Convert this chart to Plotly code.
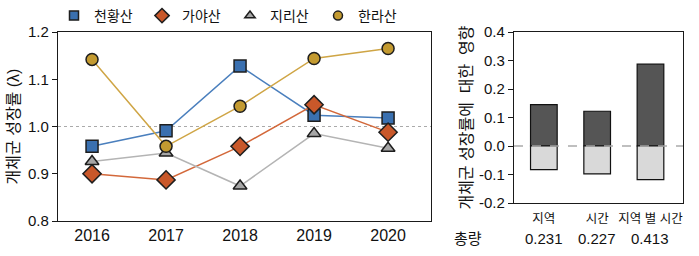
import plotly.graph_objects as go

# ---- data ----
years = [2016, 2017, 2018, 2019, 2020]
cheonhwang = [0.958, 0.991, 1.128, 1.024, 1.018]
gaya = [0.900, 0.887, 0.958, 1.046, 0.988]
jiri = [0.926, 0.944, 0.874, 0.985, 0.954]
halla = [1.142, 0.958, 1.043, 1.144, 1.165]
series_names = ["천황산", "가야산", "지리산", "한라산"]

effect_cats = ["지역", "시간", "지역 별 시간"]
effect_pos = [0.145, 0.122, 0.287]
effect_neg = [-0.083, -0.098, -0.118]
totals = ["0.231", "0.227", "0.413"]

left_ticks = [0.8, 0.9, 1.0, 1.1, 1.2]
right_tickvals = [-0.2, -0.1, 0.0, 0.1, 0.2, 0.3, 0.4]
right_ticktext = ["-0.2", "-0.1", "0.0", "0.1", "0.2", "0.3", "0.4"]

W, H = 699, 256
FONT = "Liberation Sans, Arial, Noto Sans CJK KR, sans-serif"

line_cols = ["#4a7fbd", "#d3683a", "#b4b4b4", "#cfa545"]
mark_cols = ["#3a70b0", "#c9582a", "#a6a6a6", "#c39a30"]
symbols = ["square", "diamond", "triangle-up", "circle"]
sizes = [12, 14, 12, 12]
legend_sizes = [9, 11, 9, 9]
data = [cheonhwang, gaya, jiri, halla]

fig = go.Figure()
for name, vals, lc, mc, sym, sz in zip(series_names, data, line_cols, mark_cols, symbols, sizes):
    fig.add_trace(go.Scatter(
        x=years, y=vals, name=name, mode="lines+markers", showlegend=False,
        line=dict(color=lc, width=1.5),
        marker=dict(symbol=sym, size=sz, color=mc, line=dict(color="#1e1e1e", width=1.5)),
        xaxis="x", yaxis="y",
    ))
# legend entries (markers only)
for name, mc, sym, sz in zip(series_names, mark_cols, symbols, legend_sizes):
    fig.add_trace(go.Scatter(
        x=[None], y=[None], name=name, mode="markers", showlegend=True,
        marker=dict(symbol=sym, size=sz, color=mc, line=dict(color="#1e1e1e", width=1.5)),
        xaxis="x", yaxis="y",
    ))

fig.add_trace(go.Bar(x=effect_cats, y=effect_pos, marker=dict(color="#555555", line=dict(color="#111111", width=1.2)),
                     width=0.5, showlegend=False, xaxis="x2", yaxis="y2"))
fig.add_trace(go.Bar(x=effect_cats, y=effect_neg, marker=dict(color="#d9d9d9", line=dict(color="#111111", width=1.2)),
                     width=0.5, showlegend=False, xaxis="x2", yaxis="y2"))

def px_x(p):
    return p / W

def px_y(p):
    return 1 - p / H

axis_common = dict(showline=True, linecolor="#1a1a1a", linewidth=1.3, mirror=True, showgrid=False,
                   zeroline=False, automargin=False)

fig.update_layout(
    width=W, height=H,
    margin=dict(l=0, r=0, t=0, b=0, pad=0),
    paper_bgcolor="white", plot_bgcolor="white",
    font=dict(family=FONT, size=15, color="#111111"),
    barmode="relative",
    xaxis=dict(domain=[px_x(58), px_x(431)], range=[2015.54, 2020.58], tickvals=years,
               ticks="", tickfont=dict(size=16), anchor="y", **axis_common),
    yaxis=dict(domain=[px_y(221), px_y(32)], range=[0.8, 1.2], tickvals=left_ticks, tickformat=".1f",
               ticks="outside", ticklen=5, tickcolor="#1a1a1a", tickfont=dict(size=15), anchor="x",
               title=dict(text="개체군 성장률 (λ)", font=dict(size=16), standoff=4), **axis_common),
    xaxis2=dict(domain=[px_x(514), px_x(683)], range=[-0.56, 2.61], ticks="", tickfont=dict(size=12.5),
                ticklabelstandoff=4, anchor="y2", **axis_common),
    yaxis2=dict(domain=[px_y(203), px_y(32)], range=[-0.2, 0.4], tickvals=right_tickvals, ticktext=right_ticktext,
                ticks="outside", ticklen=5, tickcolor="#1a1a1a", tickfont=dict(size=15), anchor="x2",
                title=dict(text="개체군 성장률에\u00a0\u00a0대한\u00a0\u00a0영향", font=dict(size=16), standoff=2),
                **axis_common),
    legend=dict(orientation="h", x=px_x(54), xanchor="left", y=1.0, yanchor="top",
                font=dict(size=14), entrywidth=43, entrywidthmode="pixels",
                bgcolor="rgba(0,0,0,0)", itemsizing="trace", tracegroupgap=0),
    showlegend=True,
)

fig.add_shape(type="line", xref="x domain", yref="y", x0=0, x1=1, y0=1.0, y1=1.0,
              line=dict(color="#aaaaaa", width=1, dash="dot"), layer="below")
fig.add_shape(type="line", xref="x2 domain", yref="y2", x0=0, x1=1, y0=0, y1=0,
              line=dict(color="#aaaaaa", width=1.3, dash="dash"), layer="above")

fig.add_annotation(text="총량", xref="paper", yref="paper", x=px_x(468), y=px_y(238),
                   showarrow=False, font=dict(size=15), xanchor="center", yanchor="middle")
for c, t in zip(effect_cats, totals):
    fig.add_annotation(text=t, xref="x2", yref="paper", x=c, y=px_y(238), showarrow=False,
                       font=dict(size=15), xanchor="center", yanchor="middle")

fig.write_html("out.html")
